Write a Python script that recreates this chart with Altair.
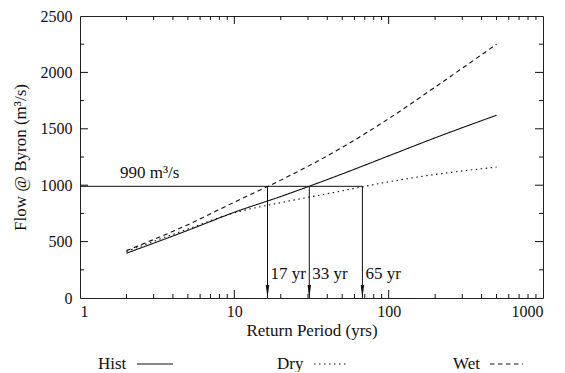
import altair as alt
import pandas as pd

# ---- data ----
return_period = [2, 5, 10, 20, 50, 100, 200, 500]
hist = [397, 600, 760, 900, 1100, 1260, 1420, 1620]
dry = [412, 612, 755, 845, 950, 1030, 1095, 1160]
wet = [420, 650, 850, 1045, 1335, 1590, 1870, 2250]
series_names = ["Hist", "Dry", "Wet"]

threshold = 990
crossing_period = [16.4, 30.6, 67.6]
crossing_label = ["17 yr", "33 yr", "65 yr"]

x_labels = [1, 10, 100, 1000]
x_major_ticks = [10, 100]
x_minor_ticks = [2, 3, 4, 5, 6, 7, 8, 9, 20, 30, 40, 50, 60, 70, 80, 90,
                 200, 300, 400, 500, 600, 700, 800, 900]
y_labels = [0, 500, 1000, 1500, 2000, 2500]
y_major_ticks = [500, 1000, 1500, 2000]
y_minor_ticks = [250, 750, 1250, 1750, 2250]

# ---- styling ----
W, H = 463, 282
FONT = "Liberation Serif"
FS = 17
INK = "#111111"
dashes = {"Hist": [1, 0], "Dry": [1.5, 3.5], "Wet": [4.5, 3.5]}

xscale = alt.Scale(type="log", domain=[1, 1000], nice=False)
yscale = alt.Scale(domain=[0, 2500], nice=False)

rows = []
for name, vals in zip(series_names, [hist, dry, wet]):
    for p, v in zip(return_period, vals):
        rows.append({"series": name, "period": p, "flow": v})
curves = pd.DataFrame(rows)

lines = alt.Chart(curves).mark_line(color=INK, strokeWidth=1.1, interpolate="monotone").encode(
    x=alt.X("period:Q", scale=xscale,
            axis=alt.Axis(values=x_labels, format="d", title="Return Period (yrs)",
                          labelPadding=5, titlePadding=3)),
    y=alt.Y("flow:Q", scale=yscale,
            axis=alt.Axis(values=y_labels, format="d", title="Flow @ Byron (m³/s)",
                          labelPadding=8, titlePadding=11)),
    strokeDash=alt.StrokeDash("series:N",
                              scale=alt.Scale(domain=series_names,
                                              range=[dashes[s] for s in series_names]),
                              legend=None),
)

# inward ticks on all four sides
def xticks(vals, length):
    d = pd.DataFrame({"period": vals})
    bottom = alt.Chart(d).mark_rule(color=INK, strokeWidth=1).encode(
        x="period:Q", y=alt.value(H), y2=alt.value(H - length))
    top = alt.Chart(d).mark_rule(color=INK, strokeWidth=1).encode(
        x="period:Q", y=alt.value(0), y2=alt.value(length))
    return [bottom, top]

def yticks(vals, length):
    d = pd.DataFrame({"flow": vals})
    left = alt.Chart(d).mark_rule(color=INK, strokeWidth=1).encode(
        y="flow:Q", x=alt.value(0), x2=alt.value(length))
    right = alt.Chart(d).mark_rule(color=INK, strokeWidth=1).encode(
        y="flow:Q", x=alt.value(W), x2=alt.value(W - length))
    return [left, right]

tick_layers = xticks(x_major_ticks, 8) + xticks(x_minor_ticks, 4) + \
    yticks(y_major_ticks, 8) + yticks(y_minor_ticks, 4)

# threshold line
thr_df = pd.DataFrame({"period": [1], "period_end": [max(crossing_period)],
                       "flow": [threshold], "text": [f"{threshold} m³/s"]})
thr_rule = alt.Chart(thr_df).mark_rule(color=INK, strokeWidth=1).encode(
    x="period:Q", x2="period_end:Q", y="flow:Q")
thr_text = alt.Chart(thr_df).mark_text(
    align="left", baseline="middle", dx=40, dy=-13, font=FONT, fontSize=FS, color=INK
).encode(x="period:Q", y="flow:Q", text="text:N")

# arrows
arr_df = pd.DataFrame({"period": crossing_period,
                       "flow": [threshold] * len(crossing_period),
                       "flow_end": [0] * len(crossing_period)})
arr_rule = alt.Chart(arr_df).mark_rule(color=INK, strokeWidth=1).encode(
    x="period:Q", y="flow:Q", y2="flow_end:Q")
head_df = pd.DataFrame({"period": crossing_period, "flow": [0] * len(crossing_period),
                        "label": crossing_label})
arr_head = alt.Chart(head_df).mark_point(
    shape="M-0.27,-1L0.27,-1L0,1Z", filled=True, size=169, yOffset=-6.5,
    color=INK, opacity=1
).encode(x="period:Q", y="flow:Q")
arr_text = alt.Chart(head_df).mark_text(
    align="left", baseline="middle", dx=3, dy=-24, font=FONT, fontSize=FS, color=INK
).encode(x="period:Q", y="flow:Q", text="label:N")

# custom legend (label then line sample), below the axis title
legend_layers = []
legend_text_x = {"Hist": 18, "Dry": 197, "Wet": 373}
legend_line_x = {"Hist": (57, 93), "Dry": (234, 268), "Wet": (410, 443)}
LEG_Y = 348
for name in series_names:
    d = pd.DataFrame({"series": [name]})
    legend_layers.append(
        alt.Chart(d).mark_text(align="left", baseline="middle", font=FONT,
                               fontSize=FS, color=INK).encode(
            text="series:N", x=alt.value(legend_text_x[name]), y=alt.value(LEG_Y)))
    x0, x1 = legend_line_x[name]
    legend_layers.append(
        alt.Chart(d).mark_rule(color=INK, strokeWidth=1.1,
                               strokeDash=dashes[name]).encode(
            x=alt.value(x0), x2=alt.value(x1), y=alt.value(LEG_Y)))

chart = alt.layer(
    lines, *tick_layers, thr_rule, thr_text, arr_rule, arr_head, arr_text, *legend_layers
).properties(
    width=W, height=H, autosize="none", background="white",
    padding={"left": 72, "top": 8, "right": 10, "bottom": 74},
).configure_view(
    stroke="#222222", strokeWidth=1
).configure_axis(
    labelFont=FONT, titleFont=FONT, labelFontSize=16, titleFontSize=FS,
    titleFontWeight="normal", labelColor=INK, titleColor=INK,
    grid=False, domain=False, ticks=False, tickSize=0,
)

chart.save("out.html", embed_options={"renderer": "svg", "actions": False})
